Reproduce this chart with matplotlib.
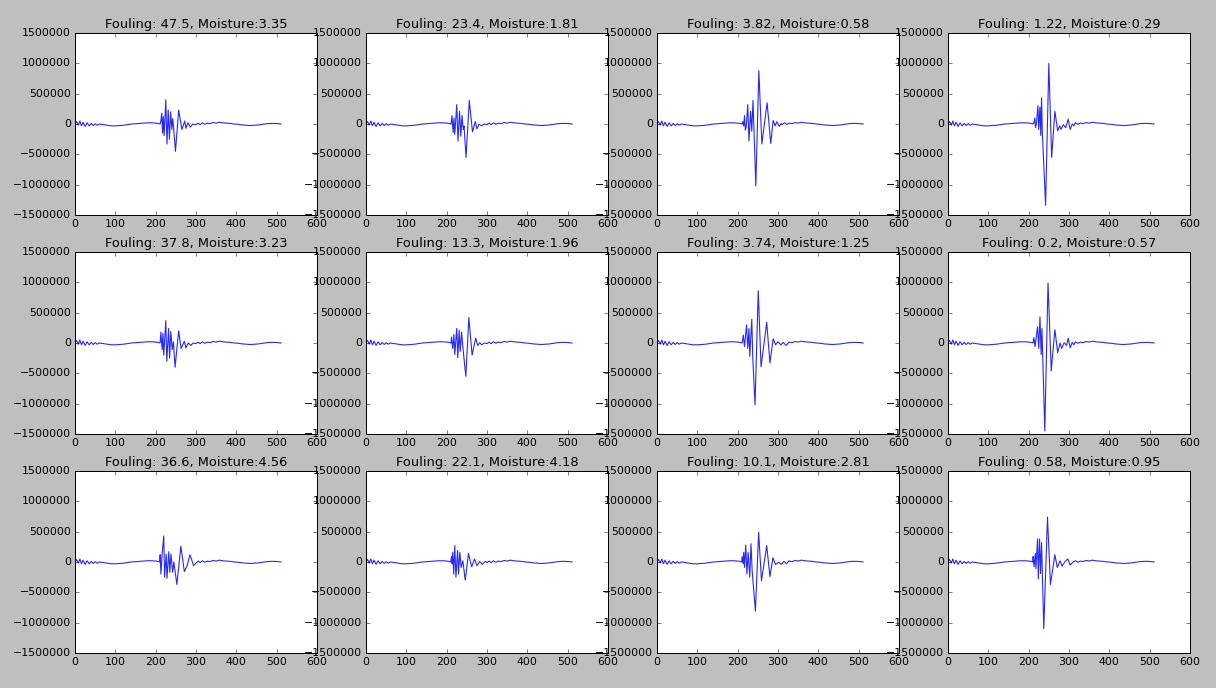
import matplotlib
matplotlib.use("Agg")
import matplotlib.pyplot as plt
import numpy as np

plt.style.use("classic")

fouling = [47.5, 23.4, 3.82, 1.22,
           37.8, 13.3, 3.74, 0.2,
           36.6, 22.1, 10.1, 0.58]
moisture = [3.35, 1.81, 0.58, 0.29,
            3.23, 1.96, 1.25, 0.57,
            4.56, 4.18, 2.81, 0.95]

# quiet part of the trace before and after the echo burst (values in thousands)
bg_x = [0, 4, 8, 12, 16, 20, 25, 30, 35, 40, 45, 50, 55, 60, 70, 80, 90, 100,
        110, 120, 130, 140, 150, 160, 170, 180, 190, 200, 206,
        300, 305, 310, 316, 322, 328, 335, 342, 350, 358, 366, 375, 385, 395,
        405, 415, 425, 435, 445, 455, 465, 475, 485, 495, 505, 511]
bg_y = [10, 40, -20, 50, -30, 30, -40, 20, -30, 10, -25, 5, -20, 0, -10, -20,
        -30, -30, -25, -20, -10, 0, 5, 10, 15, 20, 20, 15, 10,
        -10, 15, -10, 20, -5, 15, 5, 25, 15, 30, 20, 15, 10, 0,
        -5, -15, -20, -25, -20, -15, -5, 5, 10, 10, 5, 0]

# echo bursts (sample index, amplitude in thousands)
p1_x = [211, 213, 215, 217, 219, 221, 225, 228, 231, 234, 237, 240, 242, 244,
        249, 257, 265, 272, 275, 280, 286, 292, 296]
p1_y = [0, 60, 180, -150, 120, -190, 400, -330, 230, -250, 200, -90, 90, -20,
        -450, 230, -90, 50, -70, 20, -50, 0, -10]

p2_x = [211, 213, 216, 218, 220, 225, 228, 232, 235, 238, 241, 243, 248, 256,
        264, 271, 275, 280, 287, 293]
p2_y = [0, 140, -140, 100, -170, 320, -280, 210, -200, 140, -90, -30, -550,
        390, -130, 40, -80, -5, -30, 0]

p3_x = [211, 213, 215, 217, 219, 221, 225, 228, 232, 235, 238, 245, 252.5,
        260, 273, 282, 288, 293, 297, 303, 308]
p3_y = [0, 40, -30, 140, -100, -60, 320, -280, 210, -120, 390, -1020, 880,
        -330, 350, -320, 60, -30, 40, -40, 10]

p4_x = [211, 213, 215, 217, 219, 223, 225, 228, 230, 232, 234, 242, 250, 257,
        265, 272, 277, 280, 286, 292, 298, 303, 308, 312]
p4_y = [0, 20, 100, -60, 0, 300, -90, 280, -190, 430, -150, -1340, 1000,
        -550, 210, -110, -30, -90, -10, -60, 80, -90, 0, -30]

p5_x = [211, 213, 216, 218, 220, 225, 227.5, 232, 234.5, 237.5, 241, 244, 248,
        257, 263, 271, 275, 281, 287, 293]
p5_y = [0, 180, -110, 160, -200, 370, -300, 240, -250, 190, -110, 20, -400,
        200, -90, 30, -80, 0, -40, 0]

p6_x = [211, 212, 215, 218, 220, 225, 227.5, 231, 233.5, 237, 240, 247.5, 255,
        263, 272, 277, 282, 287, 293]
p6_y = [0, 100, -90, 140, -190, 240, -240, 210, -140, 180, -60, -550, 420,
        -200, 80, -40, 5, -30, 0]

p7_x = [211, 214, 217, 222, 225, 228, 230, 235, 237.5, 243, 251, 258, 272, 280,
        288, 294, 300, 307, 313, 320, 327]
p7_y = [0, 130, -60, 300, -90, 240, -220, 390, -250, -1020, 860, -390, 340,
        -330, 70, -30, 20, -30, 10, -40, 10]

p8_x = [211, 213, 216, 222, 225, 228, 231, 233, 240, 248, 256, 265, 272, 278,
        282, 288, 294, 298, 303, 308, 312]
p8_y = [0, 90, -60, 270, -90, 430, -190, 240, -1450, 990, -460, 220, -160, 0,
        -90, 5, -40, 80, -80, 10, -30]

p9_x = [210, 211, 213, 216, 220, 222, 226, 228, 232.5, 235, 238, 242, 245,
        252.5, 262.5, 271, 278, 285, 294, 300]
p9_y = [0, 120, -200, 140, 430, -250, 130, -270, 170, -170, 130, -170, 0,
        -370, 260, -160, -60, 120, -60, -20]

p10_x = [210, 212, 213.5, 215, 217.5, 220, 223, 227, 229.5, 232.5, 236, 240,
         246, 254, 262, 269, 275, 282, 288, 296, 300]
p10_y = [0, 90, -30, 160, -200, 270, -250, 190, -200, 160, -90, 20, -300, 140,
         -80, 50, -60, 5, -40, 10, -10]

p11_x = [210, 211, 213.5, 215, 217, 220, 223, 226, 230, 233, 236, 244, 252,
         259, 272, 280, 287.5, 294, 302, 308, 315, 321, 327]
p11_y = [0, 90, -30, 160, -90, 280, -200, 160, -250, 300, -150, -810, 490,
         -310, 270, -240, 70, -40, -5, -40, 10, -30, 20]

p12_x = [210, 211, 213.5, 216.5, 218, 222, 224, 227, 229.5, 232, 237.5, 246.7,
         254, 265, 271, 278, 283, 290, 297, 303, 310]
p12_y = [0, 90, -80, 140, -110, 380, -280, 380, -190, 320, -1100, 740, -370,
         120, -90, 20, -70, 5, 50, -50, 0]

bursts = [(p1_x, p1_y), (p2_x, p2_y), (p3_x, p3_y), (p4_x, p4_y),
          (p5_x, p5_y), (p6_x, p6_y), (p7_x, p7_y), (p8_x, p8_y),
          (p9_x, p9_y), (p10_x, p10_y), (p11_x, p11_y), (p12_x, p12_y)]


def trace(bx, by):
    """Join the quiet background with one echo burst."""
    gx = np.array(bg_x, dtype=float)
    gy = np.array(bg_y, dtype=float)
    bx = np.array(bx, dtype=float)
    by = np.array(by, dtype=float)
    pre = gx < bx[0]
    post = gx > bx[-1]
    x = np.concatenate([gx[pre], bx, gx[post]])
    y = np.concatenate([gy[pre], by, gy[post]]) * 1000.0
    return x, y


fig, axes = plt.subplots(3, 4, figsize=(1216 / 72, 688 / 72), dpi=72)
fig.patch.set_facecolor("#bfbfbf")
fig.subplots_adjust(left=0.0617, right=0.9786, top=0.952, bottom=0.0509,
                    wspace=0.2025, hspace=0.203)

for i, ax in enumerate(axes.flat):
    x, y = trace(*bursts[i])
    ax.plot(x, y, color="b", linewidth=1.1, alpha=0.85)
    ax.set_xlim(0, 600)
    ax.set_ylim(-1500000, 1500000)
    ax.set_xticks(np.arange(0, 601, 100))
    ax.set_yticks(np.arange(-1500000, 1500001, 500000))
    ax.ticklabel_format(style="plain", useOffset=False)
    ax.tick_params(labelsize=11)
    ax.set_title("Fouling: {}, Moisture:{}".format(fouling[i], moisture[i]),
                 fontsize=13)

fig.savefig("out.png", dpi=72, facecolor=fig.get_facecolor())
